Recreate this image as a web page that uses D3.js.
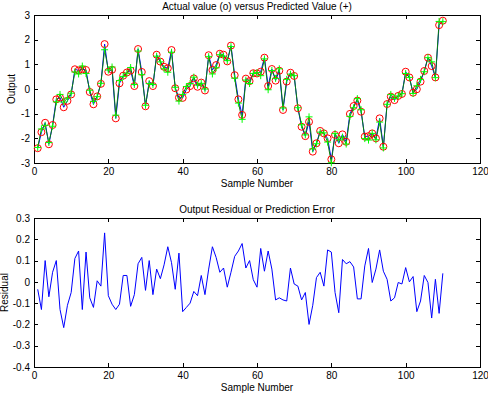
<!DOCTYPE html>
<html>
<head>
<meta charset="utf-8">
<script src="https://cdn.jsdelivr.net/npm/d3@7"></script>
<style>
  body { margin: 0; background: #fff; }
  svg { display: block; }
  text { font-family: "Liberation Sans", Arial, Helvetica, sans-serif; font-size: 10px; fill: #000; }
</style>
</head>
<body>
<div id="chart"></div>
<script>
// sample numbers 1..110
var samples = [1,2,3,4,5,6,7,8,9,10,11,12,13,14,15,16,17,18,19,20,21,22,23,24,25,26,27,28,29,30,
  31,32,33,34,35,36,37,38,39,40,41,42,43,44,45,46,47,48,49,50,51,52,53,54,55,56,57,58,59,60,
  61,62,63,64,65,66,67,68,69,70,71,72,73,74,75,76,77,78,79,80,81,82,83,84,85,86,87,88,89,90,
  91,92,93,94,95,96,97,98,99,100,101,102,103,104,105,106,107,108,109,110];

// actual output (o)
var actual = [-2.40,-1.75,-1.37,-2.24,-1.46,-0.42,-0.35,-0.74,-0.48,-0.22,
  0.80,0.75,0.80,0.77,-0.12,-0.62,-0.30,0.21,1.82,0.70,
  0.78,-1.19,0.23,0.54,0.67,0.75,0.12,1.62,0.69,-0.70,
  0.32,0.12,1.39,1.11,0.90,0.84,1.58,0.03,-0.35,-0.36,
  -0.02,0.12,0.43,0.09,0.26,-0.06,1.37,0.77,0.97,1.43,
  1.39,1.12,1.76,0.56,-0.42,-1.05,0.42,0.32,0.64,0.63,
  0.70,1.27,0.12,0.81,0.34,0.74,-0.85,0.30,0.66,0.53,
  -0.78,-1.53,-1.91,-1.33,-2.54,-2.20,-1.70,-1.80,-2.00,-2.85,
  -1.86,-2.20,-1.84,-2.14,-1.01,-0.69,-0.47,-0.92,-1.93,-1.91,
  -1.80,-2.00,-1.19,-2.34,-0.61,-0.31,-0.45,-0.28,-0.20,0.70,
  0.47,-0.15,-0.01,0.30,0.73,1.27,0.93,0.47,2.59,2.77];

// predicted output (+)
var predicted = [-2.37,-1.62,-1.47,-2.17,-1.51,-0.52,-0.22,-0.53,-0.37,-0.17,
  0.69,0.61,0.93,0.63,-0.05,-0.50,-0.31,0.23,1.59,0.77,
  0.89,-1.06,0.34,0.51,0.64,0.87,0.18,1.54,0.58,-0.66,
  0.22,0.18,1.33,1.10,0.82,0.68,1.49,0.07,-0.49,-0.22,
  0.10,0.22,0.48,0.16,0.23,0.00,1.31,0.61,0.86,1.39,
  1.33,1.15,1.72,0.44,-0.57,-1.23,0.36,0.22,0.63,0.66,
  0.54,1.22,-0.03,0.75,0.43,0.82,-0.77,0.39,0.60,0.54,
  -0.76,-1.45,-1.86,-1.13,-2.43,-2.22,-1.75,-1.78,-2.15,-2.99,
  -1.81,-2.06,-1.95,-2.23,-1.11,-0.76,-0.39,-0.84,-2.01,-2.07,
  -1.80,-2.06,-1.34,-2.39,-0.62,-0.22,-0.38,-0.28,-0.19,0.63,
  0.47,-0.18,0.13,0.39,0.70,1.27,1.10,0.46,2.74,2.73];

// residual (prediction error)
var residual = [-0.035,-0.13,0.10,-0.07,0.045,0.10,-0.13,-0.215,-0.11,-0.05,
  0.11,0.145,-0.13,0.14,-0.075,-0.12,0.005,-0.02,0.23,-0.065,
  -0.105,-0.13,-0.105,0.03,0.03,-0.115,-0.06,0.085,0.115,-0.04,
  0.10,-0.06,0.06,0.015,0.08,0.165,0.09,-0.035,0.135,-0.14,
  -0.12,-0.10,-0.045,-0.065,0.03,-0.06,0.06,0.165,0.115,0.045,
  0.065,-0.025,0.045,0.12,0.145,0.18,0.065,0.10,0.01,-0.025,
  0.157,0.05,0.145,0.06,-0.085,-0.075,-0.085,-0.09,0.065,-0.01,
  -0.02,-0.085,-0.05,-0.20,-0.11,0.02,0.045,-0.02,0.15,0.14,
  -0.05,-0.145,0.105,0.085,0.095,0.07,-0.08,-0.08,0.075,0.157,
  -0.003,0.06,0.15,0.05,0.012,-0.09,-0.075,-0.003,-0.01,0.067,
  0.0,0.025,-0.14,-0.09,0.03,-0.003,-0.17,0.012,-0.148,0.04];

var xTicks = [0,20,40,60,80,100,120];
var yTicksTop = [-3,-2,-1,0,1,2,3];
var yTicksBot = [-0.4,-0.3,-0.2,-0.1,0,0.1,0.2,0.3];

var W = 488, H = 393;
var svg = d3.select("#chart").append("svg").attr("width", W).attr("height", H);

function fmt(d) { return String(d).replace("\u2212", "-"); } // plain hyphen like matlab

// draws one boxed matlab-style axes, returns the scales
function Axes(top, bottom, ydom, yticks, title, ylabel, labelX) {
    var x = d3.scaleLinear().domain([0, 120]).range([34, 480]);
    var y = d3.scaleLinear().domain(ydom).range([bottom, top]);
    var g = svg.append("g");

    g.append("g").attr("transform", "translate(0," + bottom + ")")
        .call(d3.axisBottom(x).tickValues(xTicks).tickFormat(fmt).tickSizeInner(-4).tickSizeOuter(0).tickPadding(5));
    g.append("g").attr("transform", "translate(0," + top + ")")
        .call(d3.axisTop(x).tickValues(xTicks).tickFormat("").tickSizeInner(-4).tickSizeOuter(0));
    g.append("g").attr("transform", "translate(34,0)")
        .call(d3.axisLeft(y).tickValues(yticks).tickFormat(fmt).tickSizeInner(-4).tickSizeOuter(0).tickPadding(4));
    g.append("g").attr("transform", "translate(480,0)")
        .call(d3.axisRight(y).tickValues(yticks).tickFormat("").tickSizeInner(-4).tickSizeOuter(0));
    g.selectAll(".domain").remove();
    g.selectAll(".tick line").attr("stroke", "#000").attr("shape-rendering", "crispEdges");
    g.selectAll(".tick text").attr("fill", "#000").style("font-size", "10px");

    g.append("rect")
        .attr("x", 34.5).attr("y", top + 0.5)
        .attr("width", 446).attr("height", bottom - top)
        .attr("fill", "none").attr("stroke", "#000").attr("shape-rendering", "crispEdges");

    g.append("text").attr("x", 257).attr("y", top - 5).attr("text-anchor", "middle").text(title);
    g.append("text").attr("x", 257).attr("y", bottom + 24).attr("text-anchor", "middle").text("Sample Number");
    g.append("text").attr("transform", "translate(" + labelX + "," + ((top + bottom) / 2) + ") rotate(-90)")
        .attr("text-anchor", "middle").text(ylabel);

    return { x: x, y: y, g: g };
}

// top: actual vs predicted
var a1 = Axes(15, 163, [-3, 3], yTicksTop, "Actual value (o) versus Predicted Value (+)", "Output", 15);
var line1 = d3.line().x(function (d, i) { return a1.x(samples[i]); }).y(function (d) { return a1.y(d); });

a1.g.append("path").datum(actual).attr("d", line1)
    .attr("fill", "none").attr("stroke", "#0000ff").attr("stroke-width", 1);
a1.g.append("path").datum(predicted).attr("d", line1)
    .attr("fill", "none").attr("stroke", "#0a800a").attr("stroke-width", 1);

a1.g.selectAll(".act").data(actual).enter()
    .append("circle")
    .attr("class", "act")
    .attr("cx", function (d, i) { return a1.x(samples[i]); })
    .attr("cy", function (d) { return a1.y(d); })
    .attr("r", 3.5)
    .attr("fill", "none").attr("stroke", "#ff0000").attr("stroke-width", 1);

a1.g.selectAll(".pred").data(predicted).enter()
    .append("path")
    .attr("class", "pred")
    .attr("d", function (d, i) {
        var cx = a1.x(samples[i]), cy = a1.y(d), s = 3.5;
        return "M" + (cx - s) + "," + cy + "H" + (cx + s) + "M" + cx + "," + (cy - s) + "V" + (cy + s);
    })
    .attr("fill", "none").attr("stroke", "#00ff00").attr("stroke-width", 1);

// bottom: residual
var a2 = Axes(218, 367, [-0.4, 0.3], yTicksBot, "Output Residual or Prediction Error", "Residual", 8);
var line2 = d3.line().x(function (d, i) { return a2.x(samples[i]); }).y(function (d) { return a2.y(d); });
a2.g.append("path").datum(residual).attr("d", line2)
    .attr("fill", "none").attr("stroke", "#0000ff").attr("stroke-width", 1);
</script>
</body>
</html>
